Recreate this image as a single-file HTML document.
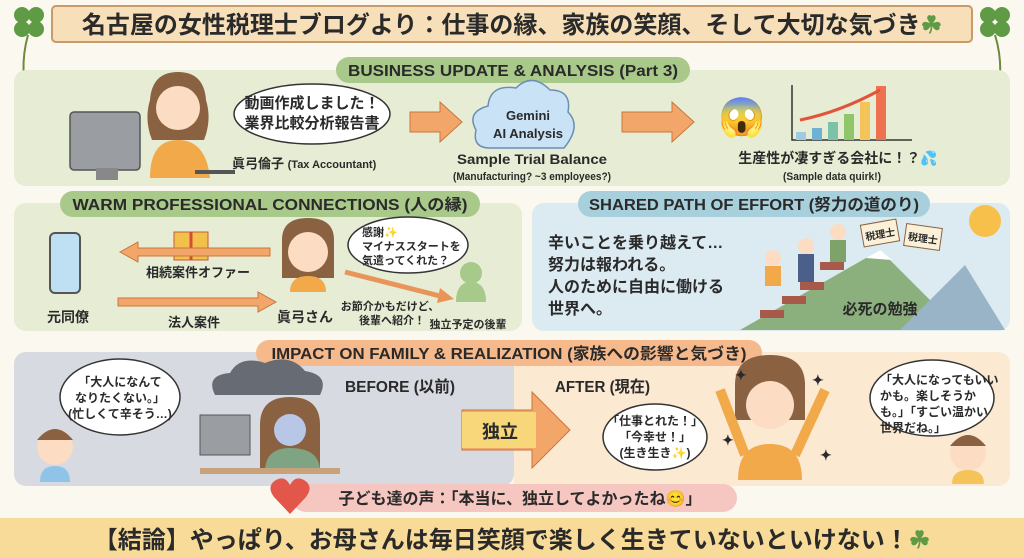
<!DOCTYPE html>
<html><head><meta charset="utf-8"><style>
html,body{margin:0;padding:0;background:#fbf8ef;}
svg{display:block}
text{font-family:"Liberation Sans","Noto Sans CJK JP",sans-serif;font-weight:bold;fill:#2a2a2a}
</style></head><body>
<svg width="1024" height="558" viewBox="0 0 1024 558" xmlns="http://www.w3.org/2000/svg">
<rect width="1024" height="558" fill="#fbf8ef"/>
<g fill="#5f9a45">
<circle cx="22" cy="15" r="8"/><circle cx="36" cy="15" r="8"/><circle cx="22" cy="29" r="8"/><circle cx="36" cy="29" r="8"/>
<circle cx="988" cy="15" r="8"/><circle cx="1002" cy="15" r="8"/><circle cx="988" cy="29" r="8"/><circle cx="1002" cy="29" r="8"/>
<circle cx="22" cy="78" r="6"/><circle cx="32" cy="78" r="6"/><circle cx="22" cy="88" r="6"/><circle cx="32" cy="88" r="6"/>
<circle cx="992" cy="78" r="6"/><circle cx="1002" cy="78" r="6"/><circle cx="992" cy="88" r="6"/><circle cx="1002" cy="88" r="6"/>
</g>
<path d="M28 35 Q18 70 30 110" stroke="#6b8a3e" stroke-width="2" fill="none"/>
<path d="M995 35 Q1006 70 994 110" stroke="#6b8a3e" stroke-width="2" fill="none"/>
<rect x="52" y="6" width="920" height="36" rx="4" fill="#f7dfb9" stroke="#c89b6a" stroke-width="2"/>
<text x="512" y="33" font-size="24" text-anchor="middle">名古屋の女性税理士ブログより：仕事の縁、家族の笑顔、そして大切な気づき<tspan fill="#5f9a45">☘</tspan></text>

<!-- Section 1 -->
<rect x="14" y="70" width="996" height="116" rx="12" fill="#e6edd4"/>
<rect x="336" y="57" width="354" height="26" rx="13" fill="#a8c98a"/>
<text x="513" y="76" font-size="16" text-anchor="middle" textLength="330" lengthAdjust="spacingAndGlyphs">BUSINESS UPDATE &amp; ANALYSIS (Part 3)</text>
<rect x="70" y="112" width="70" height="58" rx="4" fill="#9a9ea3" stroke="#555" stroke-width="1.5"/>
<rect x="96" y="168" width="22" height="12" fill="#888"/>
<path d="M150 100 q-6 20 2 40 h52 q8-20 2-40 q-2-28-28-28 q-26 0-28 28z" fill="#8a6242"/>
<circle cx="178" cy="108" r="22" fill="#fcdcc2"/>
<path d="M150 178 q0-38 28-38 q28 0 32 38z" fill="#f1a94a"/>
<path d="M195 172 h40" stroke="#555" stroke-width="4"/>
<ellipse cx="312" cy="114" rx="78" ry="30" fill="#fff" stroke="#333" stroke-width="1.5"/>
<text x="312" y="108" font-size="15" text-anchor="middle">動画作成しました！</text>
<text x="312" y="128" font-size="15" text-anchor="middle">業界比較分析報告書</text>
<text x="232" y="168" font-size="13">眞弓倫子 <tspan font-size="11">(Tax Accountant)</tspan></text>
<path d="M410 112 h30 v-10 l22 20 l-22 20 v-10 h-30z" fill="#f3a66a" stroke="#c9773d"/>
<path d="M490 148 q-18 0-14-18 q-10-18 12-24 q2-22 28-18 q16-16 34 2 q22 0 18 22 q14 14-4 36z" fill="#c9e2f5" stroke="#6a8fb3" stroke-width="1.5"/>
<text x="528" y="120" font-size="13" text-anchor="middle">Gemini</text>
<text x="528" y="138" font-size="13" text-anchor="middle" textLength="70" lengthAdjust="spacingAndGlyphs">AI Analysis</text>
<text x="532" y="164" font-size="14" text-anchor="middle" textLength="150" lengthAdjust="spacingAndGlyphs">Sample Trial Balance</text>
<text x="532" y="180" font-size="11" text-anchor="middle" textLength="158" lengthAdjust="spacingAndGlyphs">(Manufacturing? ~3 employees?)</text>
<path d="M622 112 h50 v-10 l22 20 l-22 20 v-10 h-50z" fill="#f3a66a" stroke="#c9773d"/>
<text x="742" y="130" font-size="38" text-anchor="middle">😱</text>
<path d="M792 85 v55 h120" stroke="#333" stroke-width="1.5" fill="none"/>
<rect x="796" y="132" width="10" height="8" fill="#9fcbe0"/><rect x="812" y="128" width="10" height="12" fill="#6fb1d3"/><rect x="828" y="122" width="10" height="18" fill="#7bc2a8"/><rect x="844" y="114" width="10" height="26" fill="#8fc66a"/><rect x="860" y="102" width="10" height="38" fill="#f4c45a"/><rect x="876" y="86" width="10" height="54" fill="#ee7250"/>
<path d="M800 120 Q840 112 880 90" stroke="#e0553a" stroke-width="3" fill="none"/>
<text x="838" y="163" font-size="14" text-anchor="middle">生産性が凄すぎる会社に！？💦</text>
<text x="832" y="180" font-size="11" text-anchor="middle" textLength="98" lengthAdjust="spacingAndGlyphs">(Sample data quirk!)</text>

<!-- Section 2 left -->
<rect x="14" y="203" width="508" height="128" rx="12" fill="#e6edd4"/>
<rect x="60" y="191" width="420" height="26" rx="13" fill="#a8c98a"/>
<text x="270" y="210" font-size="16" text-anchor="middle" textLength="395" lengthAdjust="spacingAndGlyphs">WARM PROFESSIONAL CONNECTIONS (人の縁)</text>
<rect x="50" y="233" width="30" height="60" rx="5" fill="#bfe0f2" stroke="#555" stroke-width="2"/>
<text x="68" y="322" font-size="14" text-anchor="middle">元同僚</text>
<rect x="174" y="232" width="34" height="28" fill="#f1c24a" stroke="#c45a3b"/>
<path d="M191 232 v28" stroke="#d64a3b" stroke-width="3"/>
<path d="M120 252 l18-10 v6 h132 v8 h-132 v6z" fill="#f3a66a" stroke="#c9773d"/>
<text x="198" y="277" font-size="13" text-anchor="middle">相続案件オファー</text>
<path d="M118 298 h140 v-6 l18 10 l-18 10 v-6 h-140z" fill="#f3a66a" stroke="#c9773d"/>
<text x="194" y="327" font-size="13" text-anchor="middle">法人案件</text>
<path d="M282 240 q0-22 26-22 q26 0 26 22 v38 h-52z" fill="#8a6242"/>
<circle cx="308" cy="252" r="20" fill="#fcdcc2"/>
<path d="M290 292 q0-16 18-16 q18 0 18 16z" fill="#f1a94a"/>
<text x="305" y="322" font-size="14" text-anchor="middle">眞弓さん</text>
<ellipse cx="408" cy="245" rx="60" ry="28" fill="#fff" stroke="#333" stroke-width="1.5"/>
<text x="362" y="236" font-size="11">感謝✨</text>
<text x="362" y="250" font-size="11">マイナススタートを</text>
<text x="362" y="264" font-size="11">気遣ってくれた？</text>
<path d="M345 272 L440 296" stroke="#e9955a" stroke-width="5"/>
<path d="M440 288 l14 11 l-17 4z" fill="#e9955a"/>
<circle cx="471" cy="273" r="11" fill="#a7c98a"/>
<path d="M456 302 q0-20 15-20 q15 0 15 20z" fill="#a7c98a"/>
<text x="390" y="310" font-size="11" text-anchor="middle">お節介かもだけど、</text>
<text x="392" y="324" font-size="11" text-anchor="middle">後輩へ紹介！</text>
<text x="468" y="328" font-size="11" text-anchor="middle">独立予定の後輩</text>

<!-- Section 2 right -->
<rect x="532" y="203" width="478" height="128" rx="12" fill="#dcebf1"/>
<rect x="578" y="191" width="352" height="26" rx="13" fill="#a8d0dc"/>
<text x="754" y="210" font-size="16" text-anchor="middle" textLength="330" lengthAdjust="spacingAndGlyphs">SHARED PATH OF EFFORT (努力の道のり)</text>
<circle cx="985" cy="221" r="16" fill="#f7c04a"/>
<text x="548" y="248" font-size="16">辛いことを乗り越えて…</text>
<text x="548" y="270" font-size="16">努力は報われる。</text>
<text x="548" y="292" font-size="16">人のために自由に働ける</text>
<text x="548" y="314" font-size="16">世界へ。</text>
<path d="M740 330 L880 250 L960 330z" fill="#8cb07d"/>
<path d="M900 330 L965 265 L1005 330z" fill="#9ab4c7"/>
<path d="M866 258 l14-8 l12 10z" fill="#fff"/>
<g fill="#a85a4a"><rect x="760" y="310" width="24" height="8"/><rect x="782" y="296" width="24" height="8"/><rect x="800" y="282" width="24" height="8"/><rect x="820" y="262" width="24" height="8"/></g>
<circle cx="773" cy="258" r="8" fill="#fcdcc2"/><rect x="765" y="266" width="16" height="20" fill="#f1a94a"/>
<circle cx="806" cy="246" r="8" fill="#fcdcc2"/><rect x="798" y="254" width="16" height="28" fill="#4a5f8a"/>
<circle cx="838" cy="232" r="8" fill="#fcdcc2"/><rect x="830" y="240" width="16" height="22" fill="#7da36a"/>
<rect x="862" y="222" width="36" height="22" fill="#fbf1d8" stroke="#8a6242" transform="rotate(-10 880 233)"/>
<rect x="905" y="226" width="36" height="22" fill="#fbf1d8" stroke="#8a6242" transform="rotate(8 923 237)"/>
<text x="880" y="238" font-size="10" text-anchor="middle" transform="rotate(-10 880 233)">税理士</text>
<text x="923" y="242" font-size="10" text-anchor="middle" transform="rotate(8 923 237)">税理士</text>
<text x="880" y="314" font-size="15" text-anchor="middle">必死の勉強</text>

<!-- Section 3 -->
<rect x="14" y="352" width="500" height="134" rx="12" fill="#d8dae1"/>
<path d="M514 352 h484 a12 12 0 0 1 12 12 v110 a12 12 0 0 1 -12 12 h-484z" fill="#fbe9d2"/>
<rect x="256" y="340" width="506" height="26" rx="13" fill="#f6b98c"/>
<text x="509" y="359" font-size="16" text-anchor="middle" textLength="475" lengthAdjust="spacingAndGlyphs">IMPACT ON FAMILY &amp; REALIZATION (家族への影響と気づき)</text>
<ellipse cx="120" cy="397" rx="60" ry="38" fill="#fff" stroke="#333" stroke-width="1.5"/>
<text x="120" y="386" font-size="12" text-anchor="middle">「大人になんて</text>
<text x="120" y="402" font-size="12" text-anchor="middle">なりたくない。」</text>
<text x="120" y="418" font-size="12" text-anchor="middle">(忙しくて辛そう…)</text>
<circle cx="55" cy="447" r="18" fill="#fcdcc2"/><path d="M37 440 q18-22 36 0z" fill="#8a6242"/>
<path d="M40 482 q0-16 15-16 q15 0 15 16z" fill="#8fc4e8"/>
<path d="M215 395 q-10-20 15-22 q10-18 35-10 q25-10 40 8 q25 4 15 24z" fill="#666b74"/>
<rect x="200" y="415" width="50" height="40" fill="#9a9ea3" stroke="#555"/>
<path d="M260 425 q0-28 30-28 q30 0 30 28 v45 h-60z" fill="#8a6242"/>
<circle cx="290" cy="430" r="16" fill="#b9c7e6"/>
<path d="M265 472 q0-24 25-24 q30 0 30 24z" fill="#7fa483"/>
<rect x="200" y="468" width="140" height="6" fill="#c8a27a"/>
<text x="345" y="392" font-size="16" textLength="110" lengthAdjust="spacingAndGlyphs">BEFORE (以前)</text>
<text x="555" y="392" font-size="16" textLength="95" lengthAdjust="spacingAndGlyphs">AFTER (現在)</text>
<path d="M462 410 h70 v-18 l38 38 l-38 38 v-18 h-70z" fill="#f3a66a" stroke="#c9773d"/>
<rect x="462" y="412" width="74" height="36" fill="#f7d77a"/>
<text x="500" y="438" font-size="18" text-anchor="middle">独立</text>
<ellipse cx="655" cy="437" rx="52" ry="33" fill="#fff" stroke="#333" stroke-width="1.5"/>
<text x="655" y="425" font-size="12" text-anchor="middle">「仕事とれた！」</text>
<text x="655" y="441" font-size="12" text-anchor="middle">「今幸せ！」</text>
<text x="655" y="457" font-size="12" text-anchor="middle">(生き生き✨)</text>
<path d="M735 385 q0-30 35-30 q35 0 35 30 v35 h-70z" fill="#8a6242"/>
<circle cx="770" cy="405" r="24" fill="#fcdcc2"/>
<path d="M738 480 q0-36 32-36 q32 0 32 36z" fill="#f1a94a"/>
<path d="M745 455 L720 390 M795 455 L825 390" stroke="#f1a94a" stroke-width="10"/>
<text x="735" y="380" font-size="14" fill="#f2c04a">✦</text><text x="812" y="385" font-size="14" fill="#f2c04a">✦</text><text x="722" y="445" font-size="14" fill="#f2c04a">✦</text><text x="820" y="460" font-size="14" fill="#f2c04a">✦</text>
<ellipse cx="932" cy="398" rx="62" ry="38" fill="#fff" stroke="#333" stroke-width="1.5"/>
<text x="880" y="384" font-size="12">「大人になってもいい</text>
<text x="880" y="400" font-size="12">かも。楽しそうか</text>
<text x="880" y="416" font-size="12">も。」「すごい温かい</text>
<text x="880" y="432" font-size="12">世界だね。」</text>
<circle cx="968" cy="453" r="18" fill="#fcdcc2"/><path d="M950 446 q18-22 36 0z" fill="#8a6242"/>
<path d="M952 484 q0-14 16-14 q16 0 16 14z" fill="#f4c45a"/>
<rect x="292" y="484" width="445" height="28" rx="14" fill="#f6c7c1"/>
<path d="M290 514 l-16-17 q-8-11 2-17 q9-5 14 5 q5-10 14-5 q10 6 2 17z" fill="#e2574a"/>
<text x="520" y="504" font-size="16" text-anchor="middle">子ども達の声：「本当に、独立してよかったね😊」</text>
<rect x="0" y="518" width="1024" height="40" fill="#f8db98"/>
<text x="512" y="548" font-size="24" text-anchor="middle">【結論】やっぱり、お母さんは毎日笑顔で楽しく生きていないといけない！<tspan fill="#5f9a45">☘</tspan></text>
</svg>
</body></html>
